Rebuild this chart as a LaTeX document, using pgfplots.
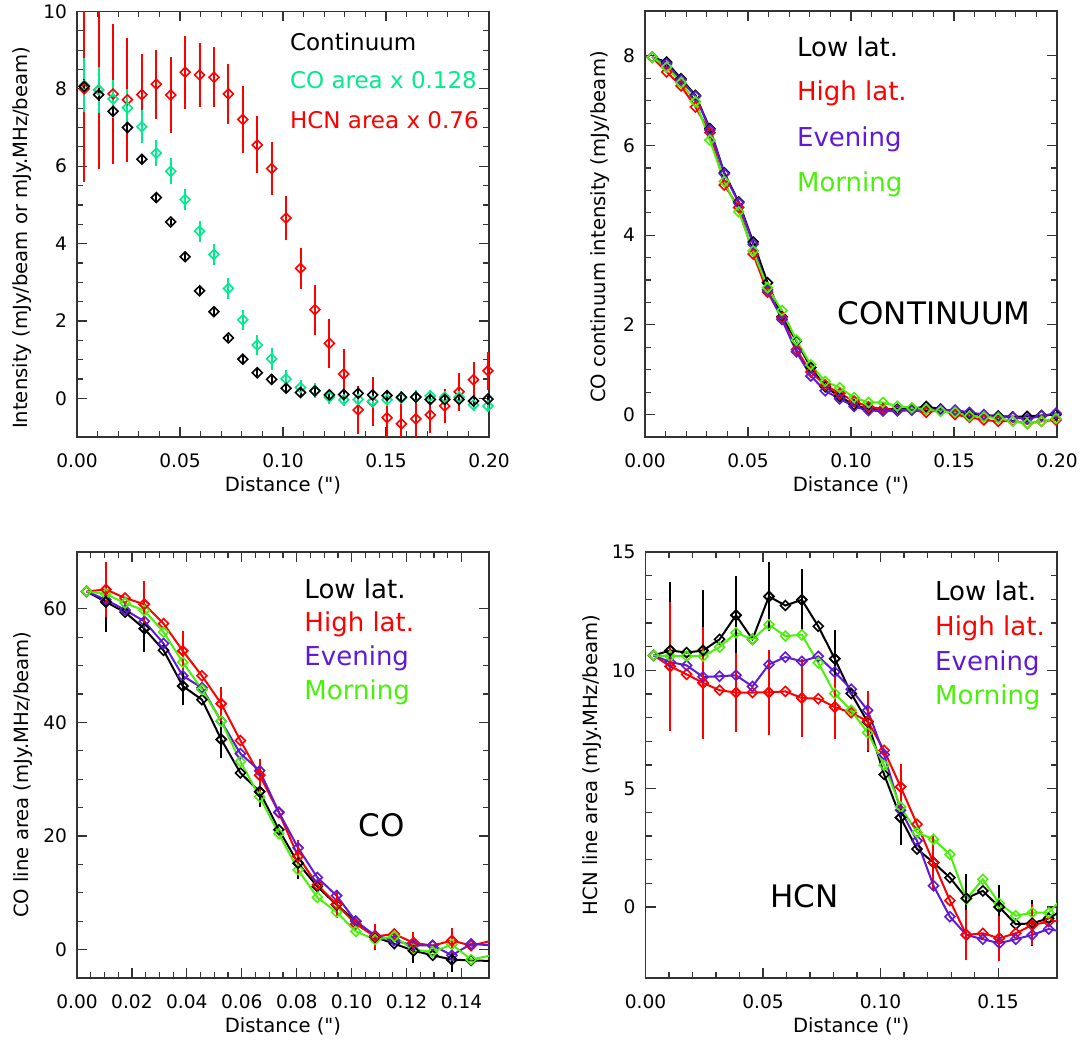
\documentclass[border=0pt]{standalone}
\usepackage{pgfplots}
\pgfplotsset{compat=1.18}
\usepackage{pgfplotstable}
\usepackage{fontspec}
\setmainfont{DejaVu Sans}
\newfontfamily\qfont{DejaVu Sans}
\definecolor{cog}{RGB}{0,235,140}
\definecolor{eve}{RGB}{95,25,215}
\definecolor{mor}{RGB}{75,240,10}

% ---------- Panel 1 data ----------
\pgfplotstableread{
x y e
0.0035 8.00 2.35
0.0105 7.97 2.0
0.0175 7.87 1.76
0.0245 7.72 1.56
0.0315 7.85 1.0
0.0385 8.12 0.85
0.0455 7.84 0.93
0.0525 8.43 0.90
0.0595 8.36 0.77
0.0665 8.30 0.73
0.0735 7.87 0.72
0.0805 7.21 0.81
0.0875 6.55 0.69
0.0945 5.94 0.65
0.1015 4.66 0.52
0.1085 3.36 0.48
0.1155 2.29 0.60
0.1225 1.42 0.58
0.1295 0.63 0.60
0.1365 -0.30 0.57
0.1435 -0.09 0.59
0.1505 -0.50 0.55
0.1575 -0.66 0.50
0.1645 -0.53 0.50
0.1715 -0.43 0.41
0.1785 -0.20 0.40
0.1855 0.17 0.45
0.1925 0.48 0.42
0.1995 0.71 0.45
}\hcnA
\pgfplotstableread{
x y e
0.0035 8.09 0.65
0.0105 7.97 0.55
0.0175 7.74 0.45
0.0245 7.51 0.43
0.0315 7.02 0.38
0.0385 6.34 0.29
0.0455 5.87 0.29
0.0525 5.14 0.23
0.0595 4.32 0.22
0.0665 3.72 0.22
0.0735 2.84 0.23
0.0805 2.03 0.21
0.0875 1.38 0.22
0.0945 1.02 0.24
0.1015 0.50 0.18
0.1085 0.28 0.15
0.1155 0.20 0.15
0.1225 0.03 0.12
0.1295 -0.04 0.12
0.1365 -0.03 0.12
0.1435 -0.08 0.12
0.1505 -0.04 0.12
0.1575 0.01 0.12
0.1645 0.04 0.12
0.1715 0.06 0.12
0.1785 0.03 0.12
0.1855 0.03 0.12
0.1925 -0.17 0.12
0.1995 -0.20 0.12
}\coA
\pgfplotstableread{
x y e
0.0035 8.06 0.15
0.0105 7.85 0.12
0.0175 7.42 0.10
0.0245 7.00 0.10
0.0315 6.18 0.05
0.0385 5.19 0.05
0.0455 4.56 0.04
0.0525 3.66 0.04
0.0595 2.78 0.04
0.0665 2.24 0.04
0.0735 1.56 0.04
0.0805 1.01 0.04
0.0875 0.66 0.04
0.0945 0.49 0.04
0.1015 0.26 0.04
0.1085 0.15 0.04
0.1155 0.19 0.04
0.1225 0.09 0.04
0.1295 0.10 0.04
0.1365 0.13 0.04
0.1435 0.09 0.04
0.1505 0.07 0.04
0.1575 0.03 0.04
0.1645 0.03 0.04
0.1715 -0.03 0.04
0.1785 -0.03 0.04
0.1855 -0.03 0.04
0.1925 -0.07 0.04
0.1995 -0.02 0.04
}\contA

% ---------- Panel 2 data ----------
\pgfplotstableread{
x lo hi ev mo
0.0035 7.97 7.97 7.97 7.97
0.0105 7.86 7.64 7.82 7.75
0.0175 7.49 7.33 7.46 7.40
0.0245 7.12 6.86 7.10 6.98
0.0315 6.38 6.29 6.35 6.12
0.0385 5.39 5.12 5.37 5.20
0.0455 4.74 4.62 4.72 4.52
0.0525 3.85 3.58 3.80 3.65
0.0595 2.94 2.73 2.78 2.83
0.0665 2.18 2.16 2.12 2.32
0.0735 1.64 1.45 1.40 1.66
0.0805 1.05 0.95 0.86 1.11
0.0875 0.62 0.66 0.53 0.74
0.0945 0.40 0.47 0.35 0.60
0.1015 0.22 0.30 0.18 0.38
0.1085 0.12 0.17 0.09 0.27
0.1155 0.12 0.13 0.08 0.27
0.1225 0.12 0.10 0.08 0.19
0.1295 0.13 0.10 0.10 0.15
0.1365 0.18 0.05 0.12 0.12
0.1435 0.12 0.10 0.10 0.07
0.1505 0.06 0.00 0.10 0.05
0.1575 0.02 -0.06 0.05 -0.03
0.1645 -0.02 -0.12 0.00 -0.05
0.1715 -0.03 -0.15 -0.05 -0.08
0.1785 -0.05 -0.14 -0.06 -0.15
0.1855 -0.04 -0.20 -0.10 -0.20
0.1925 -0.02 -0.15 -0.03 -0.15
0.1995 0.00 -0.12 0.03 -0.09
}\contB

% ---------- Panel 3 data ----------
\pgfplotstableread{
x lo hi ev mo
0.0035 63.06 63.06 63.06 63.06
0.0105 61.2 63.4 61.6 62.6
0.0175 59.4 61.9 59.8 61.0
0.0245 56.5 60.8 57.8 59.7
0.0315 52.7 57.4 53.9 55.9
0.0385 46.4 52.6 48.2 50.6
0.0455 44.0 48.2 46.1 45.8
0.0525 37.0 43.3 40.2 40.2
0.0595 31.1 36.8 34.5 33.1
0.0665 27.8 30.7 31.5 26.9
0.0735 21.1 24.1 24.2 20.4
0.0805 15.2 16.4 17.9 14.05
0.0875 11.1 11.4 12.7 9.2
0.0945 7.9 8.0 9.5 6.6
0.1015 5.0 4.5 5.0 3.2
0.1085 2.2 2.3 2.5 1.76
0.1155 1.05 2.75 1.6 2.3
0.1225 -0.2 1.2 0.76 0.0
0.1295 -1.0 0.7 0.76 -0.4
0.1365 -1.76 1.6 -1.0 0.9
0.1435 -1.9 0.7 1.0 -1.76
0.1505 -2.0 1.5 0.76 -1.05
}\coC
\pgfplotstableread{
x y e
0.0105 61.2 5.0
0.0245 56.5 3.8
0.0385 46.4 3.1
0.0525 37.0 2.9
0.0665 27.8 2.3
0.0805 15.2 2.4
0.0945 7.9 2.0
0.1085 2.2 2.0
0.1225 -0.2 1.8
0.1365 -1.76 1.8
}\coCloE
\pgfplotstableread{
x y e
0.0105 63.4 4.6
0.0245 60.8 3.8
0.0385 52.6 3.2
0.0525 43.3 2.7
0.0665 30.7 2.6
0.0805 16.4 2.6
0.0945 8.0 2.1
0.1085 2.3 1.9
0.1225 1.2 1.5
0.1365 1.6 1.9
}\coChiE

% ---------- Panel 4 data ----------
\pgfplotstableread{
x lo hi ev mo
0.0035 10.63 10.63 10.63 10.63
0.0105 10.84 10.17 10.35 10.60
0.0175 10.75 9.83 10.21 10.60
0.0245 10.84 9.47 9.72 10.60
0.0315 11.31 9.16 9.75 10.98
0.0385 12.33 9.06 9.79 11.59
0.0455 11.31 9.06 9.32 11.31
0.0525 13.12 9.07 10.25 11.93
0.0595 12.74 9.11 10.56 11.45
0.0665 12.98 8.83 10.38 11.50
0.0735 11.86 8.80 10.59 10.32
0.0805 10.49 8.45 9.93 9.02
0.0875 9.02 8.21 9.20 8.31
0.0945 7.82 7.85 8.31 7.37
0.1015 5.60 6.62 6.44 5.99
0.1085 3.78 5.08 4.09 4.23
0.1155 2.45 3.50 2.80 3.15
0.1225 1.88 1.88 0.90 2.86
0.1295 1.24 0.27 -0.41 2.22
0.1365 0.37 -1.18 -1.18 0.34
0.1435 0.68 -1.11 -1.36 1.17
0.1505 0.00 -1.32 -1.53 0.15
0.1575 -0.73 -1.11 -1.36 -0.37
0.1645 -0.69 -0.76 -1.18 -0.24
0.1715 -0.48 -0.62 -0.93 -0.24
0.1785 -0.06 -0.55 -1.07 0.50
}\hcnD
\pgfplotstableread{
x y e
0.0105 10.84 2.80
0.0245 10.84 2.46
0.0385 12.33 1.60
0.0525 13.12 1.37
0.0665 12.98 1.22
0.0805 10.49 1.15
0.0945 7.82 1.18
0.1085 3.78 1.07
0.1225 1.88 1.00
0.1365 0.37 0.93
0.1505 0.00 0.84
0.1645 -0.69 0.90
}\hcnDloE
\pgfplotstableread{
x y e
0.0105 10.17 2.66
0.0245 9.47 2.29
0.0385 9.06 1.61
0.0525 9.07 1.71
0.0665 8.83 1.59
0.0805 8.45 1.29
0.0945 7.85 1.18
0.1085 5.08 0.87
0.1225 1.88 1.10
0.1365 -1.18 0.98
0.1505 -1.32 0.87
0.1645 -0.76 0.79
}\hcnDhiE

\pgfplotsset{
  myax/.style={
    scale only axis, anchor=south west,
    axis line style={black!80, line width=0.8pt},
    every tick/.style={black!80, line width=0.6pt},
    major tick length=5pt, minor tick length=3pt,
    tick align=inside, tick pos=both,
    tick label style={font=\fontsize{9.3}{11}\selectfont, black},
    x tick label style={yshift=-5pt},
    y tick label style={xshift=-1.5pt},
    label style={font=\fontsize{9.8}{12}\selectfont},
    /pgf/number format/assume math mode=true,
    scaled ticks=false,
    x tick label style={/pgf/number format/.cd, fixed, fixed zerofill, precision=2, /tikz/.cd},
    y tick label style={/pgf/number format/.cd, fixed, precision=0, /tikz/.cd},
    xlabel={Distance ({\qfont"})},
    xlabel style={at={(axis description cs:0.5,-0.113)}, anchor=center},
  },
  lplot/.style={line width=1pt, mark=square, mark size=1.75pt,
    mark options={rotate=45, line width=0.8pt, solid}},
  eplot/.style={only marks, mark=square, mark size=1.75pt,
    mark options={rotate=45, line width=0.8pt},
    error bars/y dir=both, error bars/y explicit, error bars/error mark=-,
    error bars/error bar style={line width=1pt, solid},
    error bars/error mark options={line width=1pt, mark size=0.9pt}},
}
\tikzset{leg/.style={anchor=base west, font=\fontsize{13}{15}\selectfont}}

\begin{document}
\begin{tikzpicture}
\useasboundingbox (0,0) rectangle (541.5pt,520pt);

% ---------------- Panel 1 ----------------
\begin{axis}[myax, at={(38.5pt,301.5pt)}, width=206pt, height=212.75pt,
  xmin=0, xmax=0.2, ymin=-1, ymax=10,
  xtick={0,0.05,0.1,0.15,0.2}, minor x tick num=4,
  ytick={0,2,4,6,8,10}, minor y tick num=3,
  ylabel={Intensity (mJy/beam or mJy.MHz/beam)},
  ylabel style={at={(axis description cs:-0.1335,0.468)}, anchor=center}]
\addplot[eplot, red] table[x=x, y=y, y error=e] {\hcnA};
\addplot[eplot, cog] table[x=x, y=y, y error=e] {\coA};
\addplot[eplot, black] table[x=x, y=y, y error=e] {\contA};
\node[anchor=base west, font=\fontsize{11.5}{13}\selectfont, text=black] at (rel axis cs:0.5,0.9095) {Continuum};
\node[anchor=base west, font=\fontsize{11.5}{13}\selectfont, text=cog] at (rel axis cs:0.5,0.818) {CO area x 0.128};
\node[anchor=base west, font=\fontsize{11.5}{13}\selectfont, text=red] at (rel axis cs:0.5,0.726) {HCN area x 0.76};
\end{axis}

% ---------------- Panel 2 ----------------
\begin{axis}[myax, at={(322.5pt,301.5pt)}, width=206pt, height=213pt,
  xmin=0, xmax=0.2, ymin=-0.5, ymax=9,
  xtick={0,0.05,0.1,0.15,0.2}, minor x tick num=4,
  ytick={0,2,4,6,8}, minor y tick num=3,
  ylabel={CO continuum intensity (mJy/beam)},
  ylabel style={at={(axis description cs:-0.109,0.493)}, anchor=center}]
\addplot[lplot, black] table[x=x, y=lo] {\contB};
\addplot[lplot, red] table[x=x, y=hi] {\contB};
\addplot[lplot, eve] table[x=x, y=ev] {\contB};
\addplot[lplot, mor] table[x=x, y=mo] {\contB};
\node[leg, text=black] at (rel axis cs:0.352,0.894) {Low lat.};
\node[leg, text=red] at (rel axis cs:0.352,0.791) {High lat.};
\node[leg, text=eve] at (rel axis cs:0.352,0.683) {Evening};
\node[leg, text=mor] at (rel axis cs:0.352,0.577) {Morning};
\node[anchor=base west, font=\fontsize{15.5}{18}\selectfont] at (rel axis cs:0.451,0.263) {CONTINUUM};
\end{axis}

% ---------------- Panel 3 ----------------
\begin{axis}[myax, at={(38.5pt,31pt)}, width=206pt, height=213pt,
  xmin=0, xmax=0.15, ymin=-5, ymax=70,
  xtick={0,0.02,0.04,0.06,0.08,0.1,0.12,0.14}, minor x tick num=3,
  ytick={0,20,40,60}, minor y tick num=3,
  ylabel={CO line area (mJy.MHz/beam)},
  ylabel style={at={(axis description cs:-0.13,0.477)}, anchor=center}]
\addplot[lplot, black] table[x=x, y=lo] {\coC};
\addplot[lplot, red] table[x=x, y=hi] {\coC};
\addplot[lplot, eve] table[x=x, y=ev] {\coC};
\addplot[lplot, mor] table[x=x, y=mo] {\coC};
\addplot[eplot, black] table[x=x, y=y, y error=e] {\coCloE};
\addplot[eplot, red] table[x=x, y=y, y error=e] {\coChiE};
\node[leg, text=black] at (rel axis cs:0.535,0.891) {Low lat.};
\node[leg, text=red] at (rel axis cs:0.535,0.814) {High lat.};
\node[leg, text=eve] at (rel axis cs:0.535,0.733) {Evening};
\node[leg, text=mor] at (rel axis cs:0.535,0.653) {Morning};
\node[anchor=base west, font=\fontsize{15.5}{18}\selectfont] at (rel axis cs:0.667,0.332) {CO};
\end{axis}

% ---------------- Panel 4 ----------------
\begin{axis}[myax, at={(322.75pt,31pt)}, width=205.7pt, height=213pt,
  xmin=0, xmax=0.175, ymin=-3, ymax=15,
  xtick={0,0.05,0.1,0.15}, minor x tick num=4,
  ytick={0,5,10,15}, minor y tick num=4,
  ylabel={HCN line area (mJy.MHz/beam)},
  ylabel style={at={(axis description cs:-0.131,0.5)}, anchor=center}]
\addplot[lplot, black] table[x=x, y=lo] {\hcnD};
\addplot[lplot, red] table[x=x, y=hi] {\hcnD};
\addplot[lplot, eve] table[x=x, y=ev] {\hcnD};
\addplot[lplot, mor] table[x=x, y=mo] {\hcnD};
\addplot[eplot, black] table[x=x, y=y, y error=e] {\hcnDloE};
\addplot[eplot, red] table[x=x, y=y, y error=e] {\hcnDhiE};
\node[leg, text=black] at (rel axis cs:0.687,0.887) {Low lat.};
\node[leg, text=red] at (rel axis cs:0.687,0.805) {High lat.};
\node[leg, text=eve] at (rel axis cs:0.687,0.723) {Evening};
\node[leg, text=mor] at (rel axis cs:0.687,0.641) {Morning};
\node[anchor=base west, font=\fontsize{15.5}{18}\selectfont] at (rel axis cs:0.286,0.166) {HCN};
\end{axis}
\end{tikzpicture}
\end{document}
